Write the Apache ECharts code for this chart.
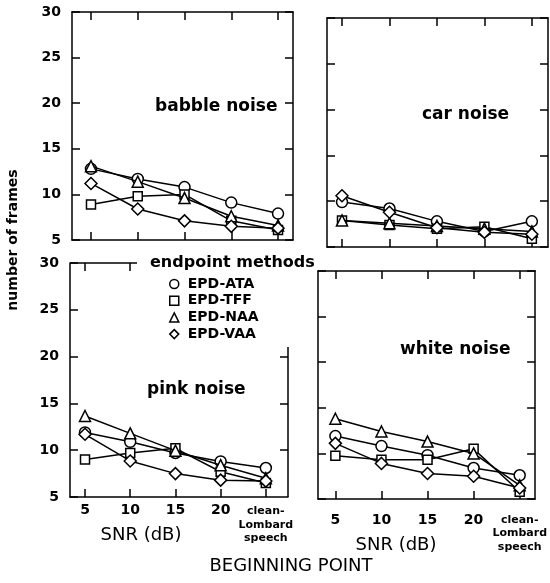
<!DOCTYPE html>
<html>
<head>
<meta charset="utf-8">
<script src="https://cdn.jsdelivr.net/npm/echarts@6/dist/echarts.min.js"></script>
<style>html,body{margin:0;padding:0;background:#fff}#c{width:550px;height:583px}</style>
</head>
<body>
<div id="c"></div>
<script>
// ---- data ----
const categories = ['5', '10', '15', '20', 'clean-Lombard speech'];
const methods = ['EPD-ATA', 'EPD-TFF', 'EPD-NAA', 'EPD-VAA'];
const yTicks = [5, 10, 15, 20, 25, 30];

const babbleATA = [12.8, 11.7, 10.8, 9.1, 7.9];
const babbleTFF = [8.9, 9.8, 10.0, 7.1, 6.1];
const babbleNAA = [13.1, 11.4, 9.6, 7.6, 6.6];
const babbleVAA = [11.2, 8.4, 7.1, 6.5, 6.3];

const carATA = [9.9, 9.2, 7.8, 6.7, 7.8];
const carTFF = [7.9, 7.4, 7.0, 7.2, 5.9];
const carNAA = [7.9, 7.6, 7.3, 7.0, 6.7];
const carVAA = [10.6, 8.8, 7.1, 6.6, 6.4];

const pinkATA = [11.9, 10.9, 9.7, 8.8, 8.1];
const pinkTFF = [9.0, 9.7, 10.2, 7.7, 6.5];
const pinkNAA = [13.65, 11.8, 9.95, 8.4, 7.0];
const pinkVAA = [11.7, 8.85, 7.5, 6.8, 6.7];

const whiteATA = [11.9, 10.8, 9.8, 8.4, 7.6];
const whiteTFF = [9.75, 9.3, 9.3, 10.5, 5.8];
const whiteNAA = [13.8, 12.4, 11.3, 10.0, 6.5];
const whiteVAA = [11.1, 8.9, 7.8, 7.5, 6.2];

const panelNames = ['babble noise', 'car noise', 'pink noise', 'white noise'];
const panelData = [
  [babbleATA, babbleTFF, babbleNAA, babbleVAA],
  [carATA, carTFF, carNAA, carVAA],
  [pinkATA, pinkTFF, pinkNAA, pinkVAA],
  [whiteATA, whiteTFF, whiteNAA, whiteVAA]
];

// ---- layout ----
const FONT = 'DejaVu Sans';
const boxes = [
  {l: 72, t: 12, r: 293, b: 240, xmin: 0.594, xmax: 5.32},
  {l: 327, t: 18, r: 548, b: 247, xmin: 0.684, xmax: 5.34},
  {l: 70, t: 263, r: 288, b: 497, xmin: 0.668, xmax: 5.49},
  {l: 318, t: 271, r: 543, b: 499, xmin: 0.623, xmax: 5.335}
];
const symbols = ['circle', 'rect', 'triangle', 'diamond'];
const symbolSizes = [11, 9, 11, 12];
const tickIdx = categories.map((c, i) => i + 1);

const lineSty = {color: '#000', width: 1.5};
const grids = [], xAxes = [], yAxes = [], series = [];

boxes.forEach((bx, p) => {
  grids.push({left: bx.l, top: bx.t, width: bx.r - bx.l, height: bx.b - bx.t, show: false});
  const bottomPanel = p >= 2;
  const partial = p === 2;
  xAxes.push({
    type: 'value', gridIndex: p, position: 'bottom', min: bx.xmin, max: bx.xmax,
    axisLine: {show: true, onZero: false, lineStyle: lineSty},
    axisTick: {show: true, inside: true, length: 8, customValues: tickIdx, lineStyle: lineSty},
    splitLine: {show: false},
    axisLabel: {
      show: bottomPanel, customValues: tickIdx, margin: p === 2 ? 6 : 14,
      color: '#000', fontFamily: FONT, fontSize: 14, fontWeight: 'bold',
      formatter: v => {
        const i = Math.round(v) - 1;
        if (i === 4) return '{s|clean-}\n{s|Lombard}\n{s|speech}';
        return categories[i];
      },
      rich: {s: {fontFamily: FONT, fontSize: 11, fontWeight: 'bold', lineHeight: 13.5, color: '#000', padding: p === 2 ? [3, 0, 0, 0] : [0, 0, 0, 0]}}
    }
  });
  xAxes.push({
    type: 'value', gridIndex: p, position: 'top', min: bx.xmin, max: bx.xmax,
    axisLine: {show: !partial, onZero: false, lineStyle: lineSty},
    axisTick: {show: true, inside: true, length: 8, customValues: partial ? [1, 2] : tickIdx, lineStyle: lineSty},
    splitLine: {show: false}, axisLabel: {show: false}
  });
  yAxes.push({
    type: 'value', gridIndex: p, position: 'left', min: 5, max: 30, interval: 5,
    axisLine: {show: true, onZero: false, lineStyle: lineSty},
    axisTick: {show: true, inside: true, length: 8, customValues: yTicks, lineStyle: lineSty},
    splitLine: {show: false},
    axisLabel: {show: p === 0 || p === 2, margin: 11, color: '#000', fontFamily: FONT, fontSize: 14, fontWeight: 'bold', customValues: yTicks}
  });
  yAxes.push({
    type: 'value', gridIndex: p, position: 'right', min: 5, max: 30, interval: 5,
    axisLine: {show: !partial, onZero: false, lineStyle: lineSty},
    axisTick: {show: true, inside: true, length: 8, customValues: partial ? [10, 15, 20] : yTicks, lineStyle: lineSty},
    splitLine: {show: false}, axisLabel: {show: false}
  });
  panelData[p].forEach((vals, m) => {
    series.push({
      type: 'line', name: methods[m], xAxisIndex: 2 * p, yAxisIndex: 2 * p,
      data: vals.map((v, i) => [i + 1, v]),
      symbol: symbols[m], symbolSize: symbolSizes[m], showAllSymbol: true,
      itemStyle: {color: '#fff', borderColor: '#000', borderWidth: 1.5},
      lineStyle: {color: '#000', width: 1.5},
      emphasis: {disabled: true}, silent: true, z: 3 + m
    });
  });
});

const txt = (x, y, s, size, weight, align, extra) => Object.assign({
  type: 'text', x: x, y: y,
  style: {text: s, fill: '#000', font: (weight || 'normal') + ' ' + size + 'px "' + FONT + '"', align: align || 'left', verticalAlign: 'middle'}
}, extra || {});

const b2 = boxes[2];
const graphics = [
  // partial frame of the pink-noise panel (interrupted by the legend)
  {type: 'line', shape: {x1: b2.l, y1: b2.t, x2: 137, y2: b2.t}, style: {stroke: '#000', lineWidth: 1.5}},
  {type: 'line', shape: {x1: b2.r, y1: 347, x2: b2.r, y2: b2.b}, style: {stroke: '#000', lineWidth: 1.5}},
  txt(155, 107, panelNames[0], 17, 'bold'),
  txt(422, 115, panelNames[1], 17, 'bold'),
  txt(147, 390, panelNames[2], 17, 'bold'),
  txt(400, 350, panelNames[3], 17, 'bold'),
  txt(150, 263, 'endpoint methods', 16, 'bold'),
  txt(13, 240, 'number of frames', 14, 'bold', 'center', {rotation: Math.PI / 2}),
  txt(141, 535, 'SNR (dB)', 18, 'normal', 'center'),
  txt(396, 545, 'SNR (dB)', 18, 'normal', 'center'),
  txt(291, 566, 'BEGINNING POINT', 18, 'normal', 'center')
];

const chart = echarts.init(document.getElementById('c'), null, {renderer: 'canvas'});
chart.setOption({
  animation: false,
  backgroundColor: '#fff',
  grid: grids, xAxis: xAxes, yAxis: yAxes, series: series,
  legend: {
    orient: 'vertical', left: 164, top: 272, itemGap: 2.7, itemWidth: 9, itemHeight: 9,
    selectedMode: false,
    textStyle: {color: '#000', fontFamily: FONT, fontSize: 14, fontWeight: 'bold', lineHeight: 14, padding: [0, 0, 0, 4]},
    data: methods.map((n, m) => ({
      name: n, icon: symbols[m],
      itemStyle: {color: '#fff', borderColor: '#000', borderWidth: 1.5}
    }))
  },
  graphic: graphics
});
</script>
</body>
</html>
